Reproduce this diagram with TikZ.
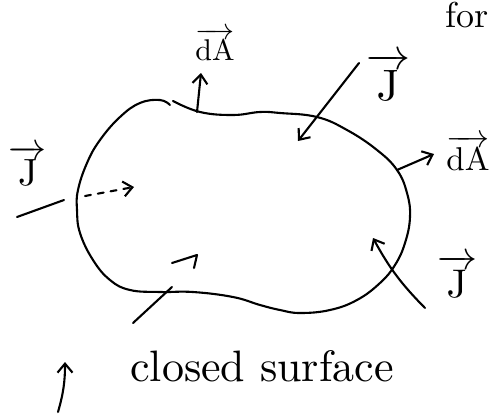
\documentclass[tikz,border=0pt]{standalone}
\usetikzlibrary{arrows.meta}
\usepackage{amsmath}

\begin{document}
\begin{tikzpicture}[
    x=1pt, y=-1pt,
    every node/.style={anchor=base, inner sep=0pt},
    pen/.style={
        draw=black,
        line width=2.1pt,
        line cap=round,
        line join=round
    },
    flecha/.style={
        pen,
        -{Straight Barb[length=9pt, width=15pt, line width=2.1pt]}
    }
]

\useasboundingbox (0,0) rectangle (498,413);
\clip (0,0) rectangle (498,413);

% ============================================================
% SUPERFICIE
% ============================================================

\draw[pen] plot[smooth, tension=0.7] coordinates {
    (173,101) (200,112) (233,115) (260,112) (280,113) (317,117)
    (347,130) (377,150) (397,170) (407,193) (410,217) (405,243)
    (395,265) (380,283) (357,300) (330,310) (300,313) (280,310)
    (260,305) (233,297) (193,292) (160,292) (130,290) (110,280)
    (93,260) (80,233) (77,210) (78,190) (87,163) (100,140)
    (120,117) (140,103) (160,100) (170,105)
};

\node[anchor=base west, scale=3.6] (titulo) at (445,27) {for};

% ============================================================
% dA
% ============================================================

\coordinate (pTopo) at (197,112);
\coordinate (pTopoFim) at (201,73);
\draw[flecha] (pTopo) -- (pTopoFim);
\node[scale=3.0] (dAtopo) at (215,60) {$\overrightarrow{\mathrm{dA}}$};

\coordinate (pDir) at (397,170);
\coordinate (pDirFim) at (434,154);
\draw[flecha] (pDir) -- (pDirFim);
\node[scale=3.3] (dAdir) at (468,170) {$\overrightarrow{\mathrm{dA}}$};

% ============================================================
% J
% ============================================================

\coordinate (jTopoIni) at (359,63);
\coordinate (jTopoFim) at (298,141);
\draw[flecha] (jTopoIni) -- (jTopoFim);
\node[scale=4.4] (Jtopo) at (388,100) {$\overrightarrow{\mathrm{J}}$};

\coordinate (jEsqIni) at (17,217);
\coordinate (jEsqFim) at (64,200);
\draw[pen] (jEsqIni) -- (jEsqFim);
\coordinate (jEsqA) at (85,196);
\coordinate (jEsqB) at (134,187);
\draw[flecha, dashed, dash pattern=on 6pt off 7pt] (jEsqA) -- (jEsqB);
\node[scale=3.8] (Jesq) at (28,185) {$\overrightarrow{\mathrm{J}}$};

\coordinate (jBaixoIni) at (133,323);
\coordinate (jBaixoFim) at (172,287);
\draw[pen] (jBaixoIni) -- (jBaixoFim);
\draw[pen] (172,263) -- (197,255) -- (194,268);

\coordinate (jDirIni) at (425,308);
\coordinate (jDirFim) at (373,238);
\draw[flecha] (jDirIni) to[bend left=8] (jDirFim);
\node[scale=4.0] (Jdir) at (457,297) {$\overrightarrow{\mathrm{J}}$};

% ============================================================
% LEGENDA
% ============================================================

\node[scale=4.4] (legenda) at (262,381) {closed surface};

\coordinate (legIni) at (58,412);
\coordinate (legFim) at (65,362);
\draw[flecha] (legIni) to[bend right=8] (legFim);

\end{tikzpicture}
\end{document}
